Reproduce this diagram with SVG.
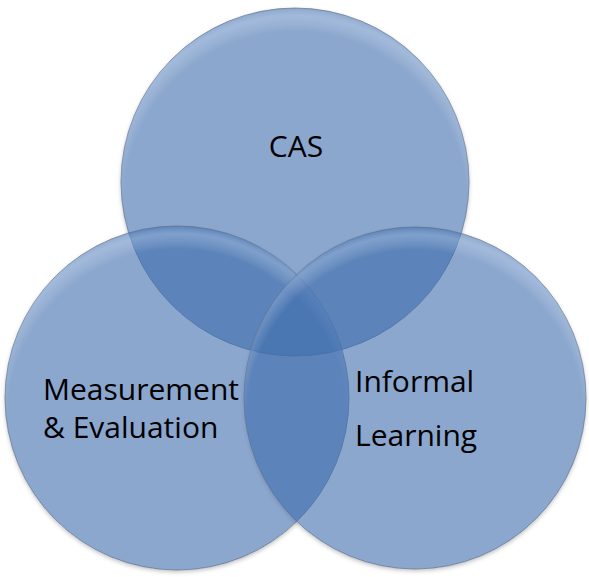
<svg xmlns="http://www.w3.org/2000/svg" width="589" height="577" viewBox="0 0 589 577">
  <defs>
    <style>
      .disc { fill: rgb(62,108,173); fill-opacity: 0.6; stroke: #5d6f8a; stroke-opacity: 0.7; stroke-width: 1; }
      .rim { fill: url(#rimGlow); }
      .base { fill: #ffffff; filter: url(#softShadow); }
      .label { font-family: "Open Sans", "Liberation Sans", sans-serif; font-size: 30px; fill: #000000; }
    </style>
    <!-- light bevel along the upper edge of each disc -->
    <radialGradient id="rimGlow" cx="0.5" cy="0.56" r="0.56">
      <stop offset="0" stop-color="#ffffff" stop-opacity="0"/>
      <stop offset="0.88" stop-color="#ffffff" stop-opacity="0"/>
      <stop offset="0.96" stop-color="#dbe8fa" stop-opacity="0.28"/>
      <stop offset="1" stop-color="#ffffff" stop-opacity="0"/>
    </radialGradient>
    <filter id="softShadow" x="-10%" y="-10%" width="120%" height="125%">
      <feDropShadow dx="0" dy="2" stdDeviation="2" flood-color="#000000" flood-opacity="0.25"/>
    </filter>
  </defs>

  <rect width="589" height="577" fill="#ffffff"/>

  <!-- shadow layer beneath the translucent discs -->
  <g id="shadows">
    <circle class="base" cx="295" cy="182" r="174"/>
    <circle class="base" cx="177" cy="398" r="172"/>
    <circle class="base" cx="415" cy="398" r="171"/>
  </g>

  <g id="node-cas">
    <circle class="disc" cx="295" cy="182" r="174"/>
    <circle class="rim" cx="295" cy="182" r="174"/>
  </g>
  <g id="node-measurement">
    <circle class="disc" cx="177" cy="398" r="172"/>
    <circle class="rim" cx="177" cy="398" r="172"/>
  </g>
  <g id="node-informal">
    <circle class="disc" cx="415" cy="398" r="171"/>
    <circle class="rim" cx="415" cy="398" r="171"/>
  </g>

  <g id="labels">
    <text class="label" x="296" y="157" text-anchor="middle">CAS</text>
    <text class="label" x="43" y="400">Measurement</text>
    <text class="label" x="43" y="438">&amp; Evaluation</text>
    <text class="label" x="355" y="392">Informal</text>
    <text class="label" x="355" y="446">Learning</text>
  </g>
</svg>
